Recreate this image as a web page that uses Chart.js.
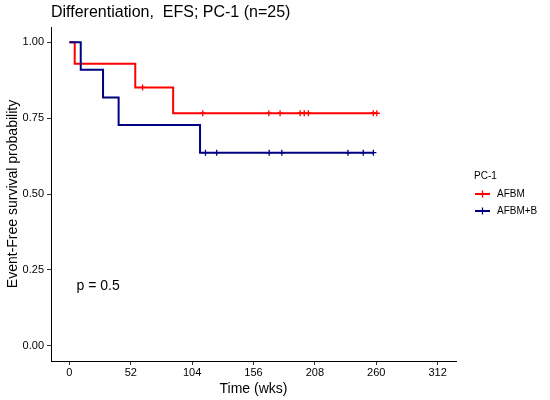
<!DOCTYPE html>
<html>
<head>
<meta charset="utf-8">
<script src="https://cdn.jsdelivr.net/npm/chart.js@4.4.1/dist/chart.umd.min.js"></script>
<style>
    html, body { margin: 0; padding: 0; background: #fff; }
    #wrap { width: 550px; height: 400px; }
</style>
</head>
<body>
<div id="wrap"><canvas id="kmChart" width="550" height="400"></canvas></div>
<script>
// Tick positions
const xTicks = [0, 52, 104, 156, 208, 260, 312];
const yTicks = [0, 0.25, 0.5, 0.75, 1];

// AFBM (red) - step times and survival
const afbmTimes = [0, 4.5, 55.8, 87.9, 260.5];
const afbmSurv = [1, 0.929, 0.851, 0.766, 0.766];
const afbmCensor = [62, 113, 169, 178.5, 195.5, 199, 202.5, 257.5, 260.5];

// AFBM+B (navy)
const afbmbTimes = [0, 9.6, 28.5, 41.7, 110.7, 257.6];
const afbmbSurv = [1, 0.909, 0.818, 0.727, 0.636, 0.636];
const afbmbCensor = [115.3, 124.8, 169.3, 180, 236, 249, 257.6];

const RED = '#FF0000';
const NAVY = '#000080';
const FONT = '"Liberation Sans", Arial, sans-serif';

function stepPoints(times, surv) {
    return times.map((t, i) => ({ x: t, y: surv[i] }));
}

// survival level at time t (last step at or before t)
function survAt(times, surv, t) {
    let s = surv[0];
    for (let i = 0; i < times.length; i++) {
        if (times[i] <= t) s = surv[i];
    }
    return s;
}

function censorPoints(times, surv, cens) {
    return cens.map(t => ({ x: t, y: survAt(times, surv, t) }));
}

// Title, legend and p-value drawn on top
const decorPlugin = {
    id: 'decor',
    afterDraw(chart) {
        const ctx = chart.ctx;
        const xs = chart.scales.x;
        const ys = chart.scales.y;
        ctx.save();
        ctx.fillStyle = '#000';
        ctx.textBaseline = 'middle';
        ctx.textAlign = 'left';

        ctx.font = '16px ' + FONT;
        ctx.fillText('Differentiation,  EFS; PC-1 (n=25)', 51, 13);

        ctx.font = '14px ' + FONT;
        ctx.fillText('p = 0.5', xs.getPixelForValue(6), ys.getPixelForValue(0.197));

        // legend
        ctx.font = '10px ' + FONT;
        ctx.fillText('PC-1', 474, 176);
        const items = [['AFBM', RED, 194], ['AFBM+B', NAVY, 211]];
        items.forEach(([label, col, y]) => {
            ctx.strokeStyle = col;
            ctx.lineWidth = 2;
            ctx.beginPath();
            ctx.moveTo(475, y);
            ctx.lineTo(490, y);
            ctx.stroke();
            ctx.lineWidth = 1.3;
            ctx.beginPath();
            ctx.moveTo(482.5, y - 3.5);
            ctx.lineTo(482.5, y + 3.5);
            ctx.stroke();
            ctx.fillStyle = '#000';
            ctx.fillText(label, 497, y);
        });
        ctx.restore();
    }
};

const ctx = document.getElementById('kmChart');
new Chart(ctx, {
    type: 'line',
    data: {
        datasets: [
            {
                label: 'AFBM+B',
                data: stepPoints(afbmbTimes, afbmbSurv),
                borderColor: NAVY,
                borderWidth: 2,
                stepped: 'before',
                pointRadius: 0,
                fill: false
            },
            {
                label: 'AFBM+B censored',
                data: censorPoints(afbmbTimes, afbmbSurv, afbmbCensor),
                showLine: false,
                pointStyle: 'cross',
                pointRadius: 3,
                borderColor: NAVY,
                borderWidth: 1.3
            },
            {
                label: 'AFBM',
                data: stepPoints(afbmTimes, afbmSurv),
                borderColor: RED,
                borderWidth: 2,
                stepped: 'before',
                pointRadius: 0,
                fill: false
            },
            {
                label: 'AFBM censored',
                data: censorPoints(afbmTimes, afbmSurv, afbmCensor),
                showLine: false,
                pointStyle: 'cross',
                pointRadius: 3,
                borderColor: RED,
                borderWidth: 1.3
            }
        ]
    },
    options: {
        responsive: false,
        animation: false,
        layout: { padding: { top: 27, right: 94, left: 0, bottom: 0 } },
        plugins: {
            legend: { display: false },
            tooltip: { enabled: false }
        },
        scales: {
            x: {
                type: 'linear',
                min: -15.6,
                max: 327.6,
                afterBuildTicks: s => { s.ticks = xTicks.map(v => ({ value: v })); },
                afterFit: s => { s.height = 39; },
                ticks: { font: { family: FONT, size: 11 }, color: '#000', padding: 1, maxRotation: 0, autoSkip: false },
                grid: { drawOnChartArea: false, drawTicks: true, tickLength: 4, color: '#333' },
                border: { display: true, color: '#000', width: 1 },
                title: { display: true, text: 'Time (wks)', font: { family: FONT, size: 14 }, color: '#000', padding: { top: 0, bottom: 2 } }
            },
            y: {
                min: -0.05,
                max: 1.05,
                afterBuildTicks: s => { s.ticks = yTicks.map(v => ({ value: v })); },
                afterFit: s => { s.width = 51; },
                ticks: { font: { family: FONT, size: 11 }, color: '#000', padding: 3, callback: v => v.toFixed(2) },
                grid: { drawOnChartArea: false, drawTicks: true, tickLength: 4, color: '#333' },
                border: { display: true, color: '#000', width: 1 },
                title: { display: true, text: 'Event-Free survival probability', font: { family: FONT, size: 14 }, color: '#000', padding: { top: 5, bottom: 0 } }
            }
        }
    },
    plugins: [decorPlugin]
});
</script>
</body>
</html>
